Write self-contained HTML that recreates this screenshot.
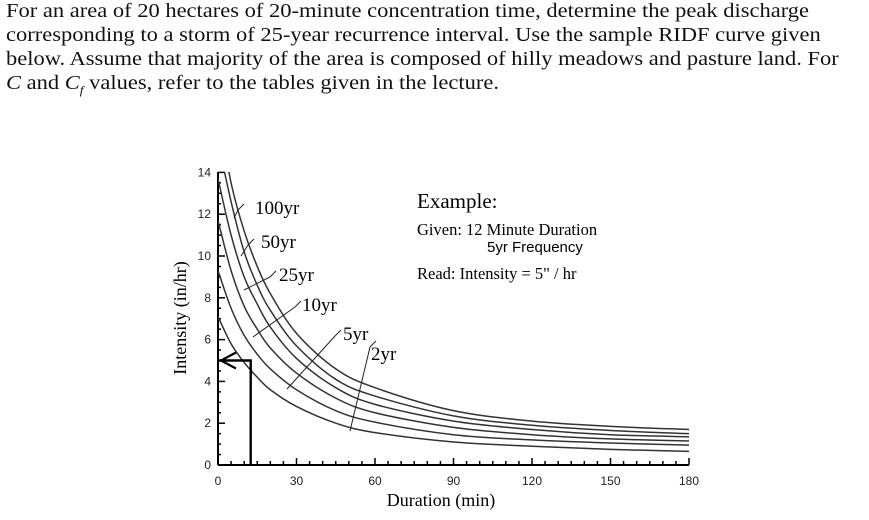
<!DOCTYPE html>
<html><head><meta charset="utf-8"><style>
body{margin:0;width:869px;height:520px;background:#fff;overflow:hidden;position:relative}
.q{position:absolute;left:6px;font-family:"Liberation Serif",serif;font-size:20px;white-space:nowrap;color:#111;transform-origin:0 0;transform:scaleX(1.125)}
svg{position:absolute;left:0;top:0}
</style></head><body>
<div class="q" style="top:0px">For an area of 20 hectares of 20-minute concentration time, determine the peak discharge</div>
<div class="q" style="top:24px">corresponding to a storm of 25-year recurrence interval. Use the sample RIDF curve given</div>
<div class="q" style="top:48px">below. Assume that majority of the area is composed of hilly meadows and pasture land. For</div>
<div class="q" style="top:72px"><i>C</i> and <i>C<sub style="font-size:12px">f</sub></i> values, refer to the tables given in the lecture.</div>
<svg id="c" width="869" height="520"></svg>
<script>
const durations=[0,5,10,15,20,30,45,60,90,120,150,180];
const i2=[7.1,5.8,4.9,4.2,3.6,2.8,2.0,1.55,1.1,0.9,0.75,0.65];
const i5=[9.3,7.5,6.2,5.3,4.6,3.6,2.6,2.05,1.45,1.2,1.05,0.95];
const i10=[11.7,9.3,7.6,6.5,5.6,4.4,3.2,2.5,1.8,1.45,1.25,1.15];
const i25=[13.7,11.0,9.0,7.7,6.6,5.1,3.7,2.9,2.1,1.7,1.45,1.35];
const i50=[15.5,12.6,10.2,8.6,7.4,5.7,4.1,3.3,2.35,1.9,1.65,1.5];
const i100=[17,13.5,11.2,9.5,8.2,6.3,4.6,3.7,2.6,2.1,1.85,1.7];
const xTicks=[0,30,60,90,120,150,180];
const yTicks=[0,2,4,6,8,10,12,14];
const seriesNames=["2yr","5yr","10yr","25yr","50yr","100yr"];
const series=[i2,i5,i10,i25,i50,i100];
const NS="http://www.w3.org/2000/svg",svg=document.getElementById('c');
const X=d=>218+d*(471/180), Y=v=>465-v*20.9;
function el(t,a,p){const e=document.createElementNS(NS,t);for(const k in a)e.setAttribute(k,a[k]);(p||svg).appendChild(e);return e;}
const clip=el('clipPath',{id:'cp'});el('rect',{x:218,y:172,width:480,height:300},clip);
let a=el('line',{x1:218,y1:465,x2:689,y2:465,stroke:'#000','stroke-width':2});

a=el('line',{x1:218,y1:465,x2:218,y2:172,stroke:'#000','stroke-width':2});

for(let d=0;d<=180;d+=5){el('line',{x1:X(d),y1:465,x2:X(d),y2:d%30?461:458,stroke:'#000','stroke-width':1.5});}
for(let v=0;v<=14;v+=0.5){el('line',{x1:218,y1:Y(v),x2:v%2?221:225,y2:Y(v),stroke:'#000','stroke-width':1.5});}
xTicks.forEach(t=>{const e=el('text',{x:X(t),y:485,'text-anchor':'middle','font-family':'Liberation Sans,sans-serif','font-size':12,fill:'#222'});e.textContent=t;
});
yTicks.forEach(t=>{const e=el('text',{x:211,y:Y(t)+4,'text-anchor':'end','font-family':'Liberation Sans,sans-serif','font-size':12,fill:'#222'});e.textContent=t;
});
let t=el('text',{x:441,y:506,'text-anchor':'middle','font-family':'Liberation Serif,serif','font-size':18});t.textContent='Duration (min)';

t=el('text',{x:0,y:0,transform:'translate(186,318) rotate(-90)','text-anchor':'middle','font-family':'Liberation Serif,serif','font-size':18});t.textContent='Intensity (in/hr)';

function path(vals){const p=durations.map((d,i)=>[X(d),Y(vals[i])]);let s='M'+p[0];
for(let i=0;i<p.length-1;i++){const p0=p[i-1]||p[i],p1=p[i],p2=p[i+1],p3=p[i+2]||p2;
s+=` C${p1[0]+(p2[0]-p0[0])/6},${p1[1]+(p2[1]-p0[1])/6} ${p2[0]-(p3[0]-p1[0])/6},${p2[1]-(p3[1]-p1[1])/6} ${p2[0]},${p2[1]}`;}return s;}
series.forEach((s,k)=>{const e=el('path',{d:path(s),fill:'none',stroke:'#333','stroke-width':1.5,'clip-path':'url(#cp)'});
});
const labs=[["100yr",255,214,238,210,234,218],["50yr",261,248,248,245,241,256],["25yr",279,281,270,277,244,290],["10yr",302,311,295,307,253,337],["5yr",343,340,335,336,287,389],["2yr",371,360,370,347,350,431]];
labs.forEach(l=>{el('line',{x1:l[3],y1:l[4],x2:l[5],y2:l[6],stroke:'#222','stroke-width':1});
el('line',{x1:l[3],y1:l[4],x2:l[3]+6,y2:l[4]-6,stroke:'#222','stroke-width':1});
const e=el('text',{x:l[1],y:l[2],'font-family':'Liberation Serif,serif','font-size':19});e.textContent=l[0];
});
el('polyline',{points:`${X(12.5)},465 ${X(12.5)},${Y(5)} 218,${Y(5)}`,fill:'none',stroke:'#000','stroke-width':2.4});
el('polyline',{points:`236,${Y(5)-8} 221,${Y(5)} 236,${Y(5)+8}`,fill:'none',stroke:'#000','stroke-width':2.2});
const ex=[["Example:",417,208,21,'Liberation Serif,serif'],["Given: 12 Minute Duration",417,235,16.5,'Liberation Serif,serif'],["5yr Frequency",487,252,15,'Liberation Sans,sans-serif'],["Read:  Intensity = 5\" / hr",417,279,16.5,'Liberation Serif,serif']];
ex.forEach(x=>{const e=el('text',{x:x[1],y:x[2],'font-family':x[4],'font-size':x[3]});e.textContent=x[0];
});
</script>
</body></html>
